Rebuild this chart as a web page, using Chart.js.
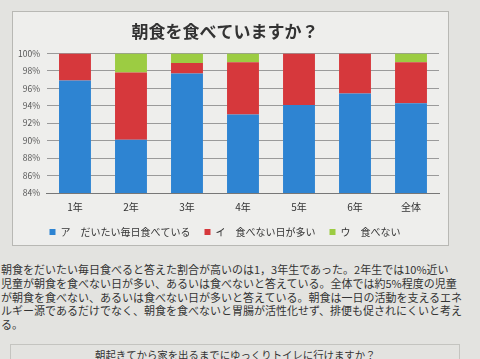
<!DOCTYPE html>
<html><head><meta charset="utf-8">
<script src="https://cdn.jsdelivr.net/npm/chart.js@4/dist/chart.umd.min.js"></script>
<style>
html,body{margin:0;padding:0;width:480px;height:359px;overflow:hidden;background:#e3e3e0;font-family:"Noto Sans CJK JP","Noto Sans",sans-serif;}
#box{position:absolute;left:12px;top:11px;width:435px;height:233px;border:1px solid #b8b8b4;background:#eeeeec;}
#wrap{position:absolute;left:11px;top:10px;width:440px;height:237px;}
#para{position:absolute;left:1px;top:263px;font-size:11px;line-height:13.8px;color:#333;white-space:pre;}
#box2{position:absolute;left:10px;top:344px;width:448px;height:30px;border:1px solid #c4c4c0;}
#q2{position:absolute;left:95px;top:347px;font-size:10.4px;color:#333;white-space:pre;}
</style></head>
<body>
<div id="box"></div>
<div id="wrap"><canvas id="c"></canvas></div>
<div id="para">朝食をだいたい毎日食べると答えた割合が高いのは1，3年生であった。2年生では10%近い
児童が朝食を食べない日が多い、あるいは食べないと答えている。全体では約5%程度の児童
が朝食を食べない、あるいは食べない日が多いと答えている。朝食は一日の活動を支えるエネ
ルギー源であるだけでなく、朝食を食べないと胃腸が活性化せず、排便も促されにくいと考え
る。</div>
<div id="box2"></div>
<div id="q2">朝起きてから家を出るまでにゆっくりトイレに行けますか？</div>
<script>
const categories = ["1年","2年","3年","4年","5年","6年","全体"];
const seriesNames = ["ア　だいたい毎日食べている","イ　食べない日が多い","ウ　食べない"];
const everyday = [96.9, 90.1, 97.7, 93.0, 94.1, 95.4, 94.3];
const oftenSkip = [3.1, 7.7, 1.2, 6.0, 5.9, 4.6, 4.7];
const never = [0.0, 2.2, 1.1, 1.0, 0.0, 0.0, 1.0];
const yTicks = [84,86,88,90,92,94,96,98,100];
const titleText = "朝食を食べていますか？";

const font = '"Noto Sans CJK JP","Noto Sans",sans-serif';
new Chart(document.getElementById('c'), {
  type: 'bar',
  data: {
    labels: categories,
    datasets: [
      {label: seriesNames[0], data: everyday, backgroundColor: '#2e84d2'},
      {label: seriesNames[1], data: oftenSkip, backgroundColor: '#d6383c'},
      {label: seriesNames[2], data: never, backgroundColor: '#9ccc42'}
    ]
  },
  options: {
    responsive: true, maintainAspectRatio: false, animation: false,
    layout: {padding: {left: 0, right: 12, top: 0, bottom: 0}},
    datasets: {bar: {categoryPercentage: 1, barPercentage: 0.57}},
    plugins: {
      title: {display: true, text: titleText, color: '#333', font: {family: font, size: 17, weight: 'bold'}, padding: {top: 11, bottom: 12}},
      legend: {position: 'bottom', labels: {boxWidth: 6, boxHeight: 6, color: '#333', font: {family: font, size: 10}, padding: 14}},
      tooltip: {enabled: false}
    },
    scales: {
      x: {stacked: true, grid: {display: false}, border: {color: '#777'}, ticks: {color: '#333', font: {family: font, size: 10}, padding: 0}},
      y: {stacked: true, min: 84, max: 100, afterBuildTicks: (ax) => { ax.ticks = yTicks.map(v => ({value: v})); },
          grid: {color: '#9a9a9a', drawTicks: false}, border: {display: false},
          ticks: {color: '#555', font: {family: font, size: 8.5}, padding: 7, callback: v => v + '%'}}
    }
  }
});
</script>
</body></html>
